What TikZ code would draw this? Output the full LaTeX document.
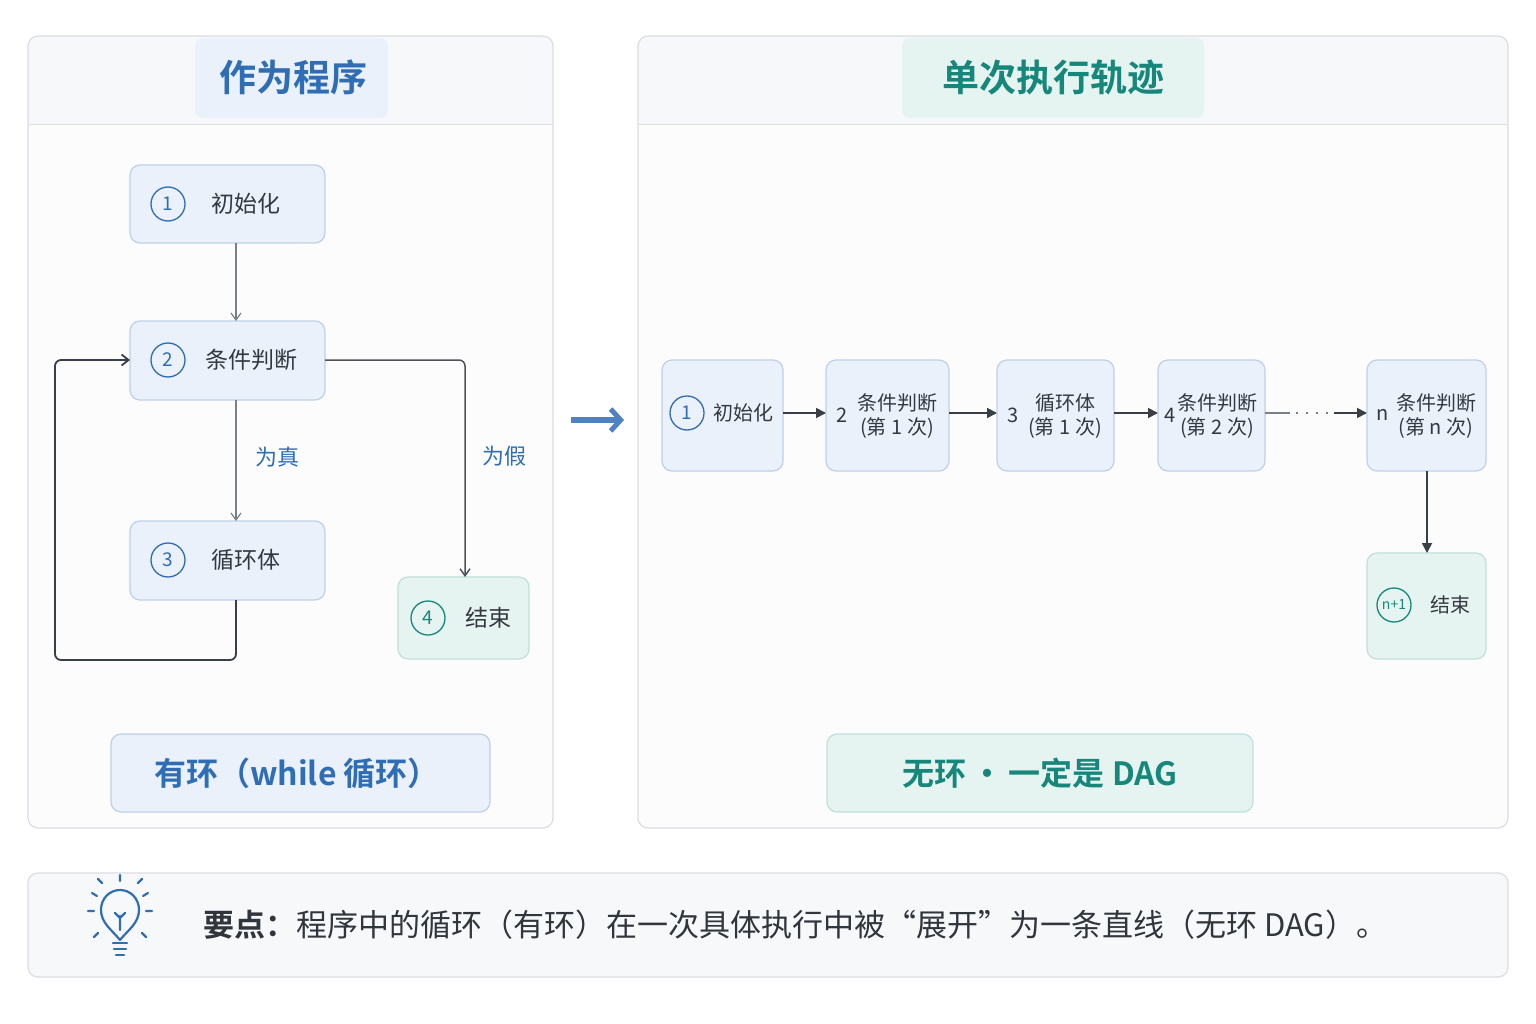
\documentclass[tikz,border=0pt]{standalone}
\usepackage{fontspec}
\setmainfont{Noto Sans CJK SC}
\newfontfamily\bfcjk{Noto Sans CJK SC Bold}
\usetikzlibrary{arrows.meta}
\definecolor{bl}{HTML}{2F6DB5}
\definecolor{blf}{HTML}{EAF1FB}
\definecolor{bld}{HTML}{BFD0EA}
\definecolor{tl}{HTML}{16877A}
\definecolor{tlf}{HTML}{E6F4F1}
\definecolor{tld}{HTML}{BFE0D9}
\definecolor{pg}{HTML}{F7F8FA}
\definecolor{pd}{HTML}{DADDE3}
\definecolor{ar}{HTML}{3A3F47}
\definecolor{ag}{HTML}{7A8088}
\begin{document}
\begin{tikzpicture}[x=1pt,y=-1pt,
 panel/.style={draw=pd,line width=1.2pt,rounded corners=10pt},
 bnode/.style={draw=bld,fill=blf,line width=1.2pt,rounded corners=10pt},
 tnode/.style={draw=tld,fill=tlf,line width=1.2pt,rounded corners=10pt},
 txt/.style={font=\fontsize{20}{24}\selectfont,text=ar!90!black,align=center},
 btxt/.style={font=\fontsize{23}{26}\selectfont,text=ar!90!black},
 num/.style={circle,draw=bl,line width=1.3pt,minimum size=34pt,inner sep=0pt,font=\fontsize{19}{20}\selectfont,text=bl},
 ga/.style={draw=ag,line width=1.2pt,-{Straight Barb[length=7pt,width=10pt]}},
 da/.style={draw=ar,line width=1.8pt,-{Triangle[length=10pt,width=10pt]}},
 lab/.style={font=\fontsize{22}{24}\selectfont,text=bl}]
\useasboundingbox (0,0) rectangle (1536,1024);
\fill[white] (0,0) rectangle (1536,1024);
% panels
\begin{scope}
\clip[rounded corners=10pt] (28,36) rectangle (553,828);
\fill[pg] (28,36) rectangle (553,125);
\fill[white!60!pg] (28,125) rectangle (553,828);
\end{scope}
\draw[pd,line width=1pt] (28,125) -- (553,125);
\draw[panel] (28,36) rectangle (553,828);
\begin{scope}
\clip[rounded corners=10pt] (638,36) rectangle (1508,828);
\fill[pg] (638,36) rectangle (1508,125);
\fill[white!60!pg] (638,125) rectangle (1508,828);
\end{scope}
\draw[pd,line width=1pt] (638,125) -- (1508,125);
\draw[panel] (638,36) rectangle (1508,828);
\fill[blf,rounded corners=8pt] (195,38) rectangle (388,118);
\node[font=\bfcjk\fontsize{37}{40}\selectfont,text=bl] (t1) at (293,77) {作为程序};
\fill[tlf,rounded corners=8pt] (902,38) rectangle (1204,118);
\node[font=\bfcjk\fontsize{37}{40}\selectfont,text=tl] (t2) at (1053,77) {单次执行轨迹};
% left nodes
\draw[bnode] (130,165) rectangle (325,243);
\node[num] (a1) at (168,204) {1}; \node[btxt] (at) at (246,204) {初始化};
\draw[bnode] (130,321) rectangle (325,400);
\node[num] (b1) at (168,360) {2}; \node[btxt] (bt) at (251,360) {条件判断};
\draw[bnode] (130,521) rectangle (325,600);
\node[num] (c1) at (168,560) {3}; \node[btxt] (ct) at (246,560) {循环体};
\draw[tnode] (398,577) rectangle (529,659);
\node[num,draw=tl,text=tl] (d1) at (428,618) {4}; \node[btxt] (dt) at (488,618) {结束};
\coordinate (aB) at (236,243); \coordinate (bT) at (236,321);
\coordinate (bB) at (236,400); \coordinate (cT) at (236,521);
\coordinate (bR) at (325,360); \coordinate (dT) at (465,577);
\coordinate (cB) at (236,600); \coordinate (bL) at (130,360);
\draw[ga] (aB) -- (bT);
\draw[ga] (bB) -- (cT);
\node[lab] (zt) at (277,457) {为真};
\draw[ga,draw=ar!90,line width=1.5pt,rounded corners=6pt] (bR) -- (465,360) -- (dT);
\node[lab] (zf) at (504,456) {为假};
\draw[draw=ar,line width=1.8pt,-{Straight Barb[length=7pt,width=11pt]},rounded corners=6pt] (cB) -- (236,660) -- (55,660) -- (55,360) -- (bL);
% bottom label boxes
\draw[bnode] (111,734) rectangle (490,812);
\node[font=\bfcjk\fontsize{32}{34}\selectfont,text=bl] (l1) at (297,773) {有环（while 循环）};
\draw[tnode] (827,734) rectangle (1253,812);
\node[font=\bfcjk\fontsize{32}{34}\selectfont,text=tl] (l2) at (1040,773) {无环\,·\,一定是 DAG};
% big arrow
\coordinate (g1) at (571,420); \coordinate (g2) at (624,420);
\draw[bl!85,line width=6pt,-{Straight Barb[length=10pt,width=22pt,line width=5pt]}] (g1) -- (g2);
% right chain
\draw[bnode] (662,360) rectangle (783,471);
\node[num] (r1) at (687,413) {1}; \node[txt] (r1t) at (743,413) {初始化};
\draw[bnode] (826,360) rectangle (949,471);
\node[txt] (r2n) at (842,415) {2}; \node[txt] (r2t) at (897,416) {条件判断\\(第 1 次)};
\draw[bnode] (997,360) rectangle (1114,471);
\node[txt] (r3n) at (1013,415) {3}; \node[txt] (r3t) at (1065,416) {循环体\\(第 1 次)};
\draw[bnode] (1158,360) rectangle (1265,471);
\node[txt] (r4n) at (1170,415) {4}; \node[txt] (r4t) at (1217,416) {条件判断\\(第 2 次)};
\draw[bnode] (1367,360) rectangle (1486,471);
\node[txt] (r5n) at (1383,415) {n}; \node[txt] (r5t) at (1436,416) {条件判断\\(第 n 次)};
\draw[tnode] (1367,553) rectangle (1486,659);
\node[num,draw=tl,text=tl,font=\fontsize{14}{16}\selectfont] (r6n) at (1394,605) {n+1}; \node[txt] (r6t) at (1450,605) {结束};
\draw[da] (783,413) -- (826,413);
\draw[da] (949,413) -- (997,413);
\draw[da] (1114,413) -- (1158,413);
\draw[ag,line width=1.4pt] (1265,413) -- (1290,413);
\draw[ag,line width=2pt,dash pattern=on 2pt off 8pt] (1296,413) -- (1332,413);
\draw[da] (1334,413) -- (1367,413);
\draw[da] (1427,471) -- (1427,553);
% bottom bar
\draw[panel,fill=pg] (28,873) rectangle (1508,977);
\begin{scope}[bl,line width=2.2pt,line cap=round]
\draw (120,940) .. controls (112,930) and (101,923) .. (101,910) .. controls (101,898) and (110,890) .. (120,890) .. controls (130,890) and (139,898) .. (139,910) .. controls (139,923) and (128,930) .. (120,940) ;
\draw (113,943) -- (127,943) (114,949) -- (126,949) (116,955) -- (124,955);
\draw (120,930) -- (120,916) (115,913) -- (120,918) -- (125,913);
\draw (120,881) -- (120,875) (97,896)--(92,893) (143,896)--(148,893) (88,911)--(94,911) (146,911)--(152,911) (102,883)--(98,879) (138,883)--(142,879) (98,933)--(94,937) (142,933)--(146,937);
\end{scope}
\node[anchor=west,font=\fontsize{31}{34}\selectfont,text=ar!85!black] (tip) at (200,925) {{\bfcjk 要点：}程序中的循环（有环）在一次具体执行中被“展开”为一条直线（无环 DAG）。};
\end{tikzpicture}
\end{document}
